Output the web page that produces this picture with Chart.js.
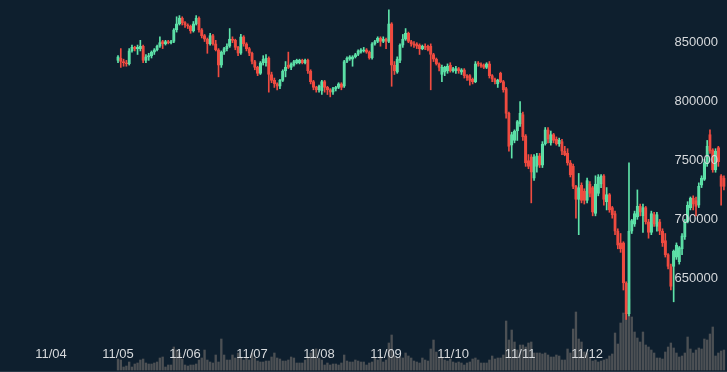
<!DOCTYPE html>
<html>
<head>
<meta charset="utf-8">
<script src="https://cdn.jsdelivr.net/npm/chart.js@4.4.1/dist/chart.umd.min.js"></script>
<style>
  html, body { margin: 0; padding: 0; background: #0e1f2e; }
  canvas { display: block; }
</style>
</head>
<body>
<canvas id="chart" width="727" height="372"></canvas>
<script>
// hourly candles starting 11/05 00:00, [open, high, low, close] in thousand JPY
const candles = [
  [835,839,833,838],[837,845,829,834],[834,836,830,833],[833,835,830,832],[832,845,831,843],
  [843,848,842,846],[846,847,843,845],[845,848,840,846],[845,852,843,847],[847,848,833,835],
  [835,840,833,838],[838,841,835,839],[839,843,837,842],[842,845,840,844],[844,848,843,847],
  [847,855,846,850],[851,852,845,849],[849,852,848,851],[851,852,849,850],[850,852,849,851],
  [851,862,850,861],[861,872,859,866],[866,873,865,871],[871,872,865,867],[867,868,863,865],
  [865,866,862,864],[864,865,858,860],[860,868,859,866],[866,873,865,871],[871,872,859,861],
  [861,862,854,856],[856,857,851,853],[853,854,841,849],[849,858,848,856],[856,857,848,849],
  [849,852,843,844],[844,845,821,831],[831,843,829,842],[842,846,840,845],[845,849,843,847],
  [847,862,846,853],[853,855,850,852],[852,853,844,846],[846,847,839,841],[841,857,840,855],
  [855,856,847,849],[849,850,843,845],[845,846,839,841],[841,842,832,834],[834,835,827,829],
  [829,830,822,824],[824,834,823,833],[833,839,831,836],[833,840,830,837],[837,838,808,823],
  [823,825,816,818],[818,820,812,815],[815,816,810,813],[813,819,811,818],[818,827,817,826],
  [826,834,821,829],[831,842,828,829],[829,833,827,832],[831,835,830,834],[833,836,832,835],
  [833,836,832,835],[835,836,832,833],[833,836,832,835],[835,836,824,826],[826,827,815,817],
  [817,818,810,812],[812,813,808,810],[810,814,808,813],[809,818,806,817],[817,818,808,812],
  [812,813,806,810],[810,811,804,808],[808,812,806,811],[811,813,809,812],[812,816,811,815],
  [815,816,810,812],[813,835,812,834],[834,838,833,837],[836,839,835,838],[836,839,830,838],
  [838,841,837,840],[840,844,839,843],[842,845,841,844],[843,846,842,844],[844,845,841,842],
  [842,843,836,837],[837,850,836,849],[849,852,848,851],[851,855,850,854],[854,855,847,851],
  [851,855,850,853],[853,854,845,851],[851,878,850,866],[866,867,813,831],[831,834,823,826],
  [825,838,824,836],[835,849,833,848],[848,857,846,853],[853,862,852,858],[858,859,850,851],
  [851,852,847,849],[849,851,846,848],[849,850,845,847],[848,849,840,845],[845,848,844,847],
  [847,849,844,846],[847,848,843,844],[847,849,810,840],[840,841,834,836],[836,837,831,832],
  [832,833,826,829],[823,831,817,829],[825,830,822,829],[826,832,824,830],[831,833,825,826],
  [826,829,825,828],[826,830,824,828],[828,829,824,826],[825,828,823,827],[827,828,820,822],
  [822,823,818,820],[822,823,814,818],[819,820,815,817],[817,834,816,832],[833,834,830,832],
  [832,833,829,830],[831,832,828,829],[829,833,828,832],[832,834,820,822],[822,823,817,819],
  [819,820,815,817],[815,819,812,818],[824,825,816,817],[817,818,808,810],[811,812,786,790],
  [790,791,758,762],[763,774,752,772],[767,776,765,775],[775,784,767,783],[781,800,779,790],
  [789,791,767,770],[771,772,745,748],[750,755,743,745],[753,755,714,740],[735,755,733,753],
  [745,756,740,754],[754,756,744,746],[746,766,744,764],[764,778,763,776],[776,778,765,768],
  [765,775,763,772],[772,773,765,767],[768,770,763,764],[764,769,762,767],[766,768,755,758],
  [758,762,754,755],[756,760,746,748],[748,750,736,738],[745,747,726,728],[728,729,701,717],
  [717,739,687,727],[729,731,714,716],[724,726,713,716],[716,735,714,733],[730,732,719,722],
  [727,728,703,706],[705,737,703,730],[722,738,720,736],[730,738,727,737],[737,738,712,717],
  [715,727,708,721],[721,722,706,708],[710,711,701,704],[705,707,687,690],[690,692,675,678],
  [680,688,672,675],[680,681,640,646],[646,647,615,620],[620,748,618,690],[690,700,688,699],
  [696,707,694,705],[702,725,700,711],[711,713,703,706],[703,713,689,710],[710,711,696,698],
  [698,700,684,689],[689,707,687,705],[704,706,694,696],[694,706,690,704],[698,700,687,690],
  [690,692,677,680],[682,688,668,670],[670,671,658,660],[660,662,640,643],[660,674,630,673],
  [668,680,666,678],[664,677,662,676],[675,688,670,686],[685,700,683,698],[698,715,697,712],
  [710,719,708,718],[718,720,708,713],[716,719,703,711],[712,731,710,728],[729,737,727,735],
  [734,751,733,748],[747,767,745,762],[772,776,756,758],[759,760,740,742],[742,760,740,758],
  [761,762,745,749],[737,738,712,728],[735,737,725,728]
];

// hourly volume, same hours as candles
const volume = [
  11,10,3,4,8,3,6,7,10,11, 7,6,6,7,8,12,13,3,5,5, 23,20,17,11,5,4,5,5,6,10,
  12,20,10,8,7,15,8,31,15,10, 10,15,12,17,12,10,12,10,17,12, 9,8,8,9,9,13,17,12,11,9,
  9,10,13,12,7,7,7,10,13,17, 20,21,12,10,5,7,5,6,6,5, 7,15,9,8,8,10,9,8,
  8,5,7,8,12,10,13,8,10,27, 35,15,12,13,12,17,14,12,9,8, 7,12,10,9,21,30,18,13,12,10,
  9,11,8,7,8,7,5,7,8,11, 12,10,7,7,7,10,14,11,12,12, 15,49,30,40,28,20,25,25,23,27,
  28,17,17,17,16,17,15,13,13,15, 14,10,10,21,17,41,58,31,28,18, 17,12,9,10,8,9,10,11,14,16,
  37,26,47,57,64,71,53,38,32,28, 38,25,23,20,17,12,12,11,18,23, 27,22,17,13,14,17,33,21,17,20,
  22,21,31,30,36,43,14,17,19,20
];

const dayTicks = [-24, 0, 24, 48, 72, 96, 120, 144, 168];
const dayLabels = ['11/04', '11/05', '11/06', '11/07', '11/08', '11/09', '11/10', '11/11', '11/12'];
const priceTicks = [650000, 700000, 750000, 800000, 850000];

const upLine = '#5ee3a9';
const upFill = 'rgba(88,214,160,0.55)';
const downColor = '#ef4b40';
const textColor = '#d6d9dc';
const labelFont = { family: 'Liberation Sans, Arial, sans-serif', size: 13 };

const isUp = candles.map(c => c[3] >= c[0]);

// labels sit inside the plot, so the axes take no room
function noRoom(scale) {
  if (scale.isHorizontal()) scale.height = 0; else scale.width = 0;
  scale.paddingTop = 0;
  scale.paddingBottom = 0;
  scale.paddingLeft = 0;
  scale.paddingRight = 0;
}

new Chart(document.getElementById('chart'), {
  type: 'bar',
  data: {
    datasets: [
      {
        label: 'Body',
        data: candles.map((c, i) => ({ x: i, y: [c[0] * 1000, c[3] * 1000] })),
        backgroundColor: isUp.map(u => u ? upFill : downColor),
        borderColor: isUp.map(u => u ? upLine : downColor),
        borderWidth: 1,
        borderSkipped: false,
        barThickness: 2.6,
        minBarLength: 1,
        grouped: false,
        yAxisID: 'y',
        order: 1
      },
      {
        label: 'Wick',
        data: candles.map((c, i) => ({ x: i, y: [c[2] * 1000, c[1] * 1000] })),
        backgroundColor: isUp.map(u => u ? upLine : downColor),
        barThickness: 1,
        grouped: false,
        yAxisID: 'y',
        order: 2
      },
      {
        label: 'Volume',
        data: volume.map((v, i) => ({ x: i, y: v })),
        backgroundColor: '#4c5054',
        barThickness: 1.7,
        grouped: false,
        yAxisID: 'yVol',
        order: 3
      }
    ]
  },
  options: {
    responsive: false,
    animation: false,
    devicePixelRatio: 1,
    layout: { padding: 0 },
    plugins: {
      legend: { display: false },
      tooltip: { enabled: false }
    },
    scales: {
      x: {
        type: 'linear',
        min: -42.26,
        max: 218.1,
        offset: false,
        grid: { display: true, drawTicks: false, color: 'rgba(0,0,0,0)' },
        border: { display: true, color: '#283846', width: 2, z: 1 },
        afterBuildTicks: scale => { scale.ticks = dayTicks.map(v => ({ value: v })); },
        afterFit: noRoom,
        ticks: {
          z: 1,
          autoSkip: false,
          maxRotation: 0,
          mirror: true,
          padding: 10,
          color: textColor,
          font: labelFont,
          callback: (value, index) => dayLabels[index]
        }
      },
      y: {
        position: 'right',
        min: 570400,
        max: 886250,
        grid: { display: false },
        border: { display: false },
        afterBuildTicks: scale => { scale.ticks = priceTicks.map(v => ({ value: v })); },
        afterFit: noRoom,
        ticks: {
          z: 1,
          mirror: true,
          padding: -9,
          color: textColor,
          font: labelFont,
          callback: value => String(value)
        }
      },
      yVol: {
        display: false,
        min: -2,
        max: 370
      }
    }
  }
});
</script>
</body>
</html>
